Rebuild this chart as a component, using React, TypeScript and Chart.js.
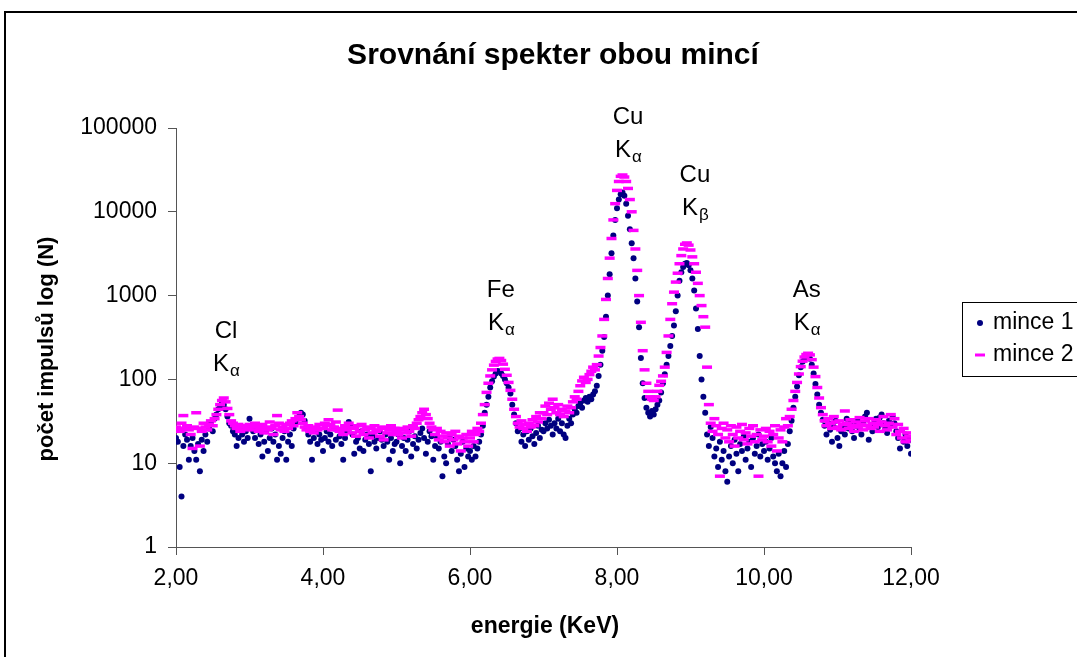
import React, { useEffect, useRef } from "react";
import { Chart, registerables } from "chart.js";

Chart.register(...registerables);

// ---- data ----
const energyStart = 2.0; // keV, first channel
const energyStep = 0.025; // keV per channel

// mince 1 (one row per keV: 2.x, 3.x, ... 11.x, then 12.0)
const mince1: number[] = [
  20, 18, 9, 4, 16, 22, 19, 11, 16, 20, 14, 11, 17, 8, 19, 14, 22, 18, 26, 30, 24, 34, 38, 44, 48, 52, 50, 44, 36, 30, 28, 24, 22, 16, 20, 26, 22, 18, 24, 20,
  34, 28, 24, 20, 26, 17, 22, 12, 18, 24, 14, 20, 26, 18, 22, 11, 16, 13, 20, 24, 11, 18, 22, 16, 26, 30, 34, 36, 40, 38, 32, 26, 22, 18, 11, 20, 24, 17, 22, 19,
  14, 20, 24, 18, 22, 16, 26, 19, 25, 21, 17, 11, 20, 24, 31, 28, 22, 13, 18, 20, 15, 24, 14, 19, 22, 17, 8, 21, 18, 15, 20, 24, 19, 16, 22, 18, 11, 20, 14, 17,
  18, 22, 10, 16, 20, 14, 19, 24, 12, 17, 21, 15, 19, 23, 26, 20, 13, 18, 24, 21, 11, 16, 20, 15, 18, 7, 12, 10, 17, 20, 14, 19, 16, 11, 8, 13, 18, 9, 15, 12,
  14, 11, 16, 12, 15, 18, 22, 28, 40, 50, 62, 80, 95, 108, 118, 126, 124, 118, 110, 100, 90, 80, 68, 50, 38, 30, 24, 26, 18, 22, 16, 24, 19, 26, 21, 17, 23, 28, 20, 25,
  24, 30, 26, 33, 28, 22, 30, 26, 34, 24, 30, 22, 20, 28, 34, 30, 38, 44, 40, 48, 52, 46, 56, 60, 54, 62, 58, 66, 72, 84, 110, 150, 220, 320, 560, 1000, 1800, 3200, 5200, 8000,
  11000, 14000, 16200, 17000, 15500, 12500, 9000, 6200, 4200, 2800, 1600, 850, 420, 180, 90, 60, 46, 40, 36, 42, 38, 44, 50, 56, 70, 90, 115, 150, 190, 250, 330, 440, 650, 1000, 1500, 1900, 2200, 2400, 2450, 2300,
  2000, 1600, 1150, 700, 400, 190, 100, 62, 40, 22, 16, 27, 20, 12, 15, 9, 18, 11, 14, 8, 6, 12, 16, 10, 19, 13, 8, 17, 14, 21, 11, 15, 18, 9, 20, 13, 16, 22, 12, 17,
  14, 18, 11, 15, 20, 12, 10, 8, 13, 7, 10, 14, 9, 17, 24, 32, 46, 62, 82, 112, 140, 162, 176, 184, 185, 176, 150, 118, 88, 66, 50, 40, 33, 28, 22, 30, 25, 18, 27, 32,
  20, 16, 24, 28, 22, 34, 26, 30, 24, 20, 28, 32, 26, 22, 30, 36, 40, 19, 28, 24, 30, 34, 27, 35, 38, 30, 26, 23, 32, 28, 36, 30, 24, 20, 15, 25, 18, 22, 16, 19, 13,
];

// mince 2
const mince2: number[] = [
  27, 26, 24, 30, 37, 26, 28, 25, 22, 15, 27, 40, 26, 16, 24, 30, 27, 25, 29, 32, 28, 34, 38, 44, 50, 56, 60, 54, 45, 38, 32, 30, 28, 26, 29, 24, 27, 25, 28, 26,
  29, 27, 25, 30, 28, 24, 26, 29, 23, 27, 25, 31, 26, 22, 28, 37, 30, 25, 27, 24, 29, 26, 30, 32, 28, 34, 40, 36, 33, 30, 27, 25, 28, 24, 26, 23, 27, 25, 29, 26,
  26, 30, 28, 33, 29, 25, 27, 31, 43, 24, 26, 22, 28, 25, 30, 27, 23, 26, 21, 28, 24, 29, 22, 25, 27, 20, 26, 23, 28, 24, 25, 21, 27, 19, 26, 23, 25, 28, 22, 26,
  24, 22, 26, 20, 25, 23, 27, 24, 21, 28, 26, 30, 33, 36, 40, 44, 38, 34, 30, 27, 25, 22, 26, 19, 24, 21, 18, 23, 20, 16, 22, 19, 24, 17, 21, 14, 20, 18, 22, 16,
  20, 24, 18, 22, 26, 24, 30, 38, 50, 70, 90, 110, 130, 148, 164, 175, 178, 168, 152, 132, 112, 92, 74, 58, 44, 36, 30, 27, 32, 26, 29, 24, 30, 27, 33, 28, 36, 31, 40, 34,
  40, 48, 38, 52, 44, 58, 46, 40, 50, 38, 44, 36, 42, 48, 40, 46, 54, 62, 58, 72, 84, 96, 106, 92, 100, 114, 125, 140, 130, 150, 190, 240, 330, 520, 900, 1600, 2800, 4800, 8000, 12500,
  18000, 23000, 26500, 27500, 26000, 23000, 19000, 14000, 10000, 6000, 3600, 2000, 1000, 480, 220, 130, 90, 72, 62, 58, 56, 62, 72, 85, 95, 110, 140, 210, 330, 520, 800, 1100, 1450, 1850, 2400, 3000, 3600, 4100, 4250, 4000,
  3500, 2900, 2400, 1900, 1400, 1000, 760, 560, 420, 140, 50, 30, 24, 34, 28, 22, 7, 26, 30, 20, 25, 18, 28, 22, 16, 27, 20, 24, 29, 19, 23, 17, 26, 21, 28, 18, 22, 7, 25, 19,
  21, 26, 18, 24, 16, 22, 28, 14, 20, 25, 18, 27, 34, 28, 36, 44, 56, 72, 92, 116, 142, 165, 185, 198, 205, 196, 172, 140, 108, 80, 60, 46, 38, 32, 28, 34, 30, 26, 36, 31,
  27, 32, 25, 29, 42, 30, 26, 33, 28, 24, 31, 27, 35, 29, 25, 32, 28, 34, 26, 30, 27, 33, 29, 24, 31, 36, 28, 25, 30, 38, 27, 34, 22, 29, 24, 20, 26, 18, 23, 21, 19,
];

const seriesNames = ["mince 1", "mince 2"];
const xTicks = [2, 4, 6, 8, 10, 12];
const yTicks = [1, 10, 100, 1000, 10000, 100000];

// peak annotations: element, line subscript, energy (keV), level of first text line (counts)
const peakElements = ["Cl", "Fe", "Cu", "Cu", "As"];
const peakLines = ["α", "α", "α", "β", "α"];
const peakEnergies = [2.68, 6.42, 8.15, 9.06, 10.58];
const peakLevels = [378, 1166, 135000, 27500, 1166];

const TITLE = "Srovnání spekter obou mincí";
const X_TITLE = "energie (KeV)";
const Y_TITLE = "počet impulsů log (N)";

const FONT = '"Liberation Sans", Arial, sans-serif';
const NAVY = "#000080";
const MAGENTA = "#FF00FF";

const textPlugin = {
  id: "texts",
  afterDraw(chart: any) {
    const { ctx, scales } = chart;
    ctx.save();
    ctx.fillStyle = "#000";
    ctx.textAlign = "center";
    ctx.textBaseline = "middle";

    // title
    ctx.font = `bold 30px ${FONT}`;
    ctx.fillText(TITLE, 553, 56);

    // x title
    ctx.font = `bold 23px ${FONT}`;
    ctx.fillText(X_TITLE, 545, 627);

    // y title
    ctx.save();
    ctx.translate(47, 349);
    ctx.rotate(-Math.PI / 2);
    ctx.font = `bold 22px ${FONT}`;
    ctx.fillText(Y_TITLE, 0, 0);
    ctx.restore();

    // peak annotations
    for (let i = 0; i < peakElements.length; i++) {
      const x = scales.x.getPixelForValue(peakEnergies[i]);
      const y = scales.y.getPixelForValue(peakLevels[i]);
      ctx.textAlign = "center";
      ctx.font = `24px ${FONT}`;
      ctx.fillText(peakElements[i], x, y);
      const wK = ctx.measureText("K").width;
      ctx.font = `17px ${FONT}`;
      const wS = ctx.measureText(peakLines[i]).width;
      const start = x - (wK + wS) / 2;
      ctx.textAlign = "left";
      ctx.font = `24px ${FONT}`;
      ctx.fillText("K", start, y + 33);
      ctx.font = `17px ${FONT}`;
      ctx.fillText(peakLines[i], start + wK + 1, y + 40);
    }

    // legend
    ctx.strokeStyle = "#000";
    ctx.lineWidth = 1;
    ctx.strokeRect(962.5, 302.5, 200, 74);
    ctx.fillStyle = NAVY;
    ctx.beginPath();
    ctx.arc(980, 323, 3, 0, Math.PI * 2);
    ctx.fill();
    ctx.strokeStyle = MAGENTA;
    ctx.lineWidth = 3;
    ctx.beginPath();
    ctx.moveTo(975, 355);
    ctx.lineTo(985, 355);
    ctx.stroke();
    ctx.fillStyle = "#000";
    ctx.textAlign = "left";
    ctx.font = `23px ${FONT}`;
    ctx.fillText(seriesNames[0], 993, 323);
    ctx.fillText(seriesNames[1], 993, 355);
    ctx.restore();
  },
};

export default function App() {
  const canvasRef = useRef<HTMLCanvasElement | null>(null);

  useEffect(() => {
    const energies = mince1.map((_, i) => +(energyStart + i * energyStep).toFixed(3));
    const pts1 = mince1.map((v, i) => ({ x: energies[i], y: v }));
    const pts2 = mince2.map((v, i) => ({ x: energies[i], y: v }));
    const tickFont = { family: FONT, size: 23 };
    const chart = new Chart(canvasRef.current as HTMLCanvasElement, {
      type: "scatter",
      data: {
        datasets: [
          {
            label: seriesNames[0],
            data: pts1,
            pointStyle: "circle",
            pointRadius: 3,
            pointBackgroundColor: NAVY,
            pointBorderColor: NAVY,
            pointBorderWidth: 0,
            showLine: false,
            order: 1,
          },
          {
            label: seriesNames[1],
            data: pts2,
            pointStyle: "line",
            pointRadius: 5,
            pointBorderColor: MAGENTA,
            pointBackgroundColor: MAGENTA,
            pointBorderWidth: 3.5,
            showLine: false,
            order: 0,
          },
        ],
      },
      options: {
        responsive: false,
        animation: false,
        events: [],
        layout: { padding: { left: 0, right: 166, top: 128, bottom: 0 } },
        plugins: {
          legend: { display: false },
          tooltip: { enabled: false },
          title: { display: false },
        },
        scales: {
          x: {
            type: "linear",
            min: 2,
            max: 12,
            afterBuildTicks: (s: any) => {
              s.ticks = xTicks.map((v) => ({ value: v }));
            },
            afterFit: (s: any) => {
              s.height = 110;
            },
            ticks: {
              font: tickFont,
              color: "#000",
              padding: 10,
              maxRotation: 0,
              autoSkip: false,
              callback: (v: any) => Number(v).toFixed(2).replace(".", ","),
            },
            grid: { drawOnChartArea: false, drawTicks: true, tickLength: 8, color: "#555" },
            border: { display: true, color: "#555", width: 1 },
          },
          y: {
            type: "logarithmic",
            min: 1,
            max: 100000,
            afterBuildTicks: (s: any) => {
              s.ticks = yTicks.map((v) => ({ value: v, major: true }));
            },
            afterFit: (s: any) => {
              s.width = 176;
            },
            ticks: {
              font: tickFont,
              color: "#000",
              padding: 11,
              autoSkip: false,
              callback: (v: any) => String(v),
            },
            grid: { drawOnChartArea: false, drawTicks: true, tickLength: 8, color: "#555" },
            border: { display: true, color: "#555", width: 1 },
          },
        },
      } as any,
      plugins: [textPlugin],
    });
    return () => chart.destroy();
  }, []);

  return (
    <div style={{ position: "absolute", left: 0, top: 0, width: 1077, height: 657, overflow: "hidden", background: "#fff" }}>
      <canvas ref={canvasRef} width={1077} height={657} style={{ position: "absolute", left: 0, top: 0 }} />
      <div
        style={{
          position: "absolute",
          left: 4,
          top: 11,
          width: 1200,
          height: 800,
          border: "2px solid #000",
          boxSizing: "border-box",
          pointerEvents: "none",
        }}
      />
    </div>
  );
}
